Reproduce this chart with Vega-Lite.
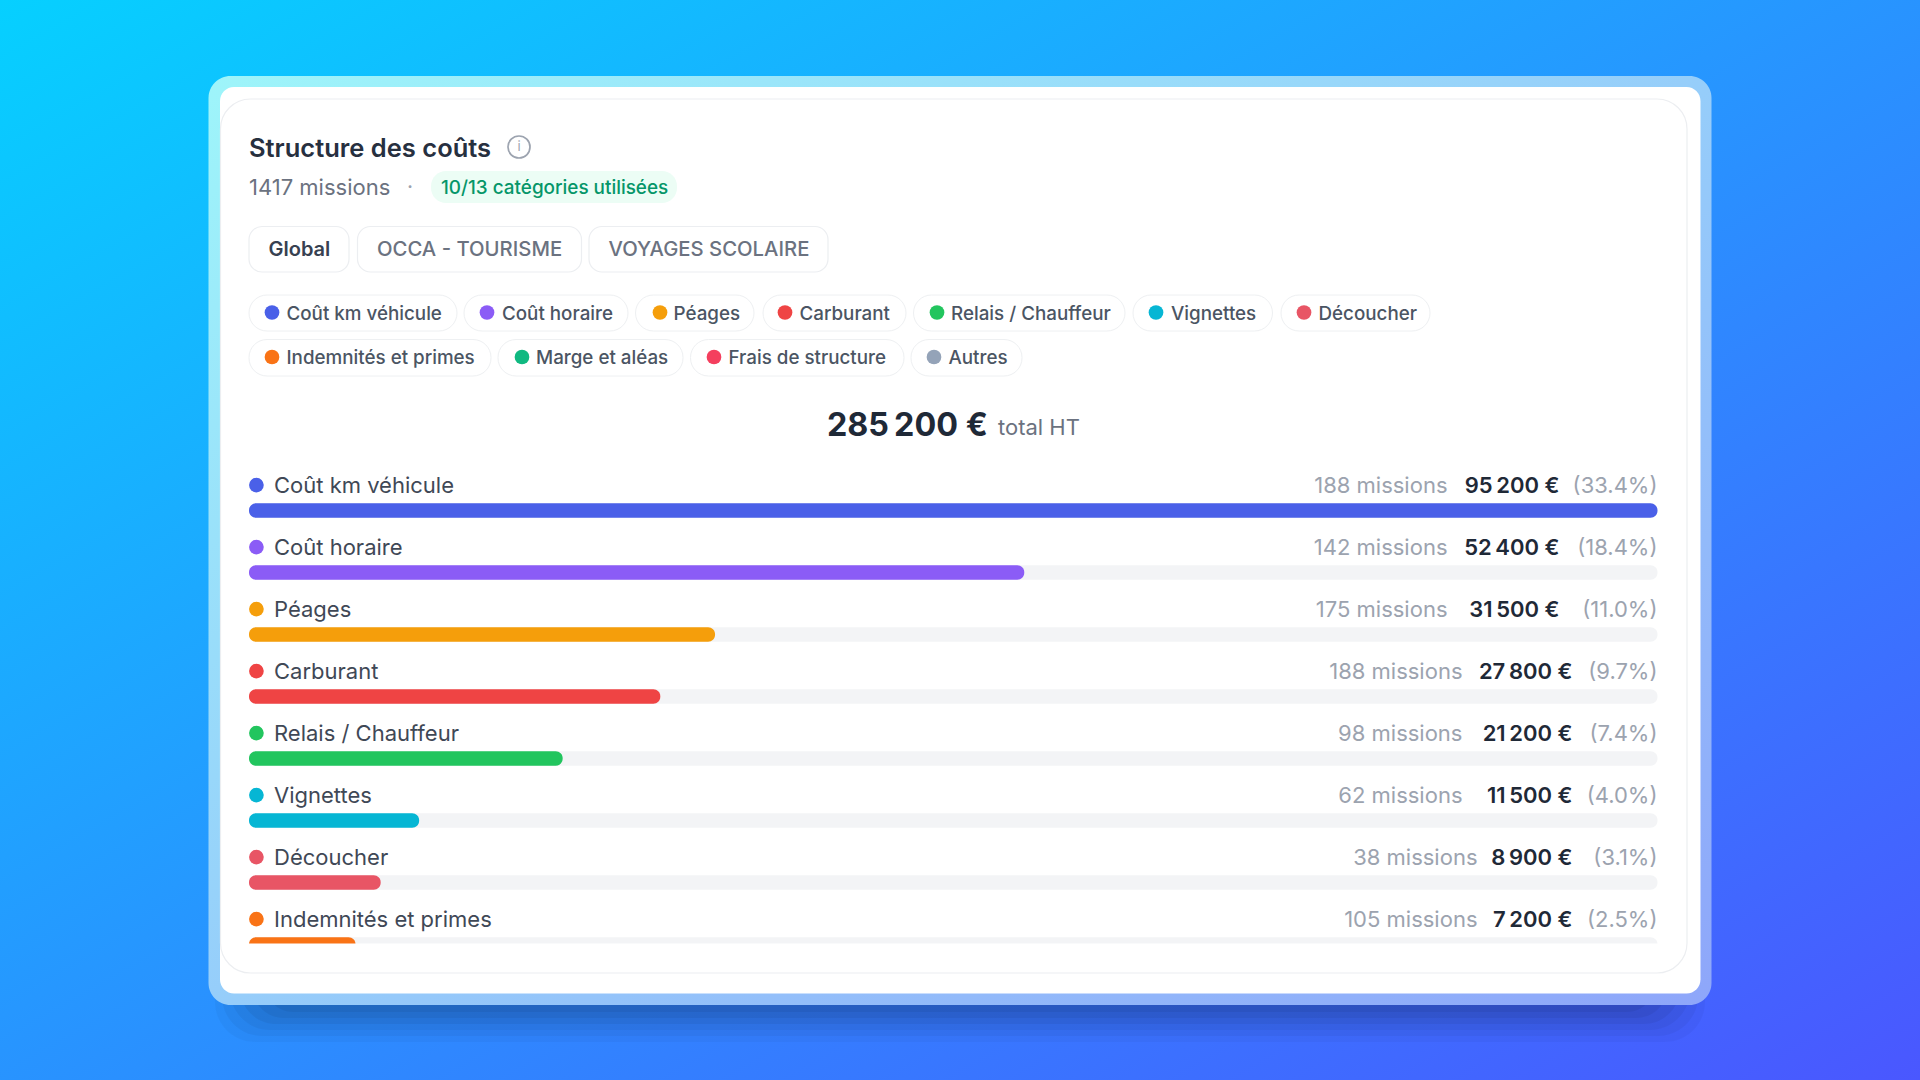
{
  "$schema": "https://vega.github.io/schema/vega-lite/v6.json",
  "width": 1920,
  "height": 1080,
  "padding": 0,
  "autosize": {"type": "fit", "contains": "padding"},
  "background": "#2a8cff",
  "config": {"font": "Inter", "view": {"stroke": null}, "axis": {"disable": true}},
  "resolve": {"scale": {"x": "independent", "y": "independent"}},
  "layer": [
    {
      "data": {"values": [{"card": "Structure des coûts"}]},
      "layer": [
        {"mark": {"type": "rect", "fill": {"gradient": "linear", "x1": 0, "y1": 0, "x2": 1, "y2": 1, "stops": [{"offset": 0, "color": "#06d0ff"}, {"offset": 1, "color": "#4a57ff"}]}},
         "encoding": {"x": {"datum": 0, "scale": {"domain": [0, 1920], "nice": false, "zero": false}}, "x2": {"datum": 1920}, "y": {"datum": 0, "scale": {"domain": [0, 1080], "reverse": true, "nice": false, "zero": false}}, "y2": {"datum": 1080}}},

        {"mark": {"type": "rect", "fill": "#000", "opacity": 0.03, "cornerRadius": 40}, "encoding": {"x": {"datum": 215}, "x2": {"datum": 1705}, "y": {"datum": 100}, "y2": {"datum": 1042}}},
        {"mark": {"type": "rect", "fill": "#000", "opacity": 0.04, "cornerRadius": 40}, "encoding": {"x": {"datum": 222}, "x2": {"datum": 1698}, "y": {"datum": 100}, "y2": {"datum": 1036}}},
        {"mark": {"type": "rect", "fill": "#000", "opacity": 0.04, "cornerRadius": 40}, "encoding": {"x": {"datum": 230}, "x2": {"datum": 1690}, "y": {"datum": 100}, "y2": {"datum": 1030}}},
        {"mark": {"type": "rect", "fill": "#000", "opacity": 0.05, "cornerRadius": 36}, "encoding": {"x": {"datum": 240}, "x2": {"datum": 1680}, "y": {"datum": 100}, "y2": {"datum": 1024}}},
        {"mark": {"type": "rect", "fill": "#000", "opacity": 0.05, "cornerRadius": 32}, "encoding": {"x": {"datum": 252}, "x2": {"datum": 1668}, "y": {"datum": 100}, "y2": {"datum": 1018}}},
        {"mark": {"type": "rect", "fill": "#000", "opacity": 0.05, "cornerRadius": 28}, "encoding": {"x": {"datum": 265}, "x2": {"datum": 1655}, "y": {"datum": 100}, "y2": {"datum": 1012}}},

        {"mark": {"type": "rect", "cornerRadius": 22, "fill": {"gradient": "linear", "x1": 0, "y1": 0, "x2": 1, "y2": 1, "stops": [{"offset": 0, "color": "#9ef5fa"}, {"offset": 1, "color": "#8ea6fa"}]}},
         "encoding": {"x": {"datum": 208.5}, "x2": {"datum": 1711.5}, "y": {"datum": 76}, "y2": {"datum": 1005}}},
        {"mark": {"type": "rect", "fill": "#ffffff", "cornerRadius": 14}, "encoding": {"x": {"datum": 220}, "x2": {"datum": 1700.5}, "y": {"datum": 87}, "y2": {"datum": 993.5}}},

        {"mark": {"type": "text", "align": "left", "baseline": "middle", "fontSize": 25.5, "fontWeight": 600, "color": "#27303f"}, "encoding": {"x": {"datum": 249}, "y": {"datum": 148.5}, "text": {"field": "card"}}},
        {"mark": {"type": "point", "shape": "circle", "filled": false, "size": 484, "strokeWidth": 1.7, "color": "#9ca3af", "opacity": 1}, "encoding": {"x": {"datum": 519}, "y": {"datum": 147}}},
        {"mark": {"type": "text", "align": "center", "baseline": "middle", "fontSize": 13, "color": "#9ca3af"}, "encoding": {"x": {"datum": 519}, "y": {"datum": 147}, "text": {"value": "i"}}},

        {"mark": {"type": "text", "align": "left", "baseline": "middle", "fontSize": 22, "color": "#6b7280"}, "encoding": {"x": {"datum": 249}, "y": {"datum": 188}, "text": {"value": "1417 missions"}}},
        {"mark": {"type": "text", "align": "center", "baseline": "middle", "fontSize": 21, "color": "#9ca3af"}, "encoding": {"x": {"datum": 410}, "y": {"datum": 188}, "text": {"value": "·"}}},
        {"mark": {"type": "rect", "fill": "#ecfdf5", "cornerRadius": 15}, "encoding": {"x": {"datum": 431}, "x2": {"datum": 677}, "y": {"datum": 171}, "y2": {"datum": 203}}},
        {"mark": {"type": "text", "align": "left", "baseline": "middle", "fontSize": 18.9, "fontWeight": 500, "color": "#059669"}, "encoding": {"x": {"datum": 441}, "y": {"datum": 188}, "text": {"value": "10/13 catégories utilisées"}}},

        {"mark": {"type": "rect", "fill": "#ffffff", "stroke": "#eceef1", "strokeWidth": 1.2, "cornerRadius": 13}, "encoding": {"x": {"datum": 249}, "x2": {"datum": 349}, "y": {"datum": 226.5}, "y2": {"datum": 272}}},
        {"mark": {"type": "text", "align": "left", "baseline": "middle", "fontSize": 20, "fontWeight": 600, "color": "#374151"}, "encoding": {"x": {"datum": 268.5}, "y": {"datum": 250}, "text": {"value": "Global"}}},
        {"mark": {"type": "rect", "fill": "#ffffff", "stroke": "#eceef1", "strokeWidth": 1.2, "cornerRadius": 13}, "encoding": {"x": {"datum": 357.5}, "x2": {"datum": 581.5}, "y": {"datum": 226.5}, "y2": {"datum": 272}}},
        {"mark": {"type": "text", "align": "left", "baseline": "middle", "fontSize": 20.3, "fontWeight": 500, "color": "#6b7280"}, "encoding": {"x": {"datum": 377}, "y": {"datum": 250}, "text": {"value": "OCCA - TOURISME"}}},
        {"mark": {"type": "rect", "fill": "#ffffff", "stroke": "#eceef1", "strokeWidth": 1.2, "cornerRadius": 13}, "encoding": {"x": {"datum": 589}, "x2": {"datum": 828}, "y": {"datum": 226.5}, "y2": {"datum": 272}}},
        {"mark": {"type": "text", "align": "left", "baseline": "middle", "fontSize": 20.3, "fontWeight": 500, "color": "#6b7280"}, "encoding": {"x": {"datum": 608.5}, "y": {"datum": 250}, "text": {"value": "VOYAGES SCOLAIRE"}}},

        {"data": {"values": [{"name": "Coût km véhicule"}]}, "layer": [
          {"mark": {"type": "rect", "fill": "#fff", "stroke": "#eef0f2", "cornerRadius": 18}, "encoding": {"x": {"datum": 249}, "x2": {"datum": 457}, "y": {"datum": 295}, "y2": {"datum": 331}}},
          {"mark": {"type": "circle", "size": 216, "opacity": 1}, "encoding": {"x": {"datum": 272}, "y": {"datum": 312.5}, "color": {"field": "name", "type": "nominal", "legend": null, "scale": {"domain": ["Coût km véhicule", "Coût horaire", "Péages", "Carburant", "Relais / Chauffeur", "Vignettes", "Découcher", "Indemnités et primes", "Marge et aléas", "Frais de structure", "Autres"], "range": ["#4a60e8", "#8b5cf6", "#f59e0b", "#ef4444", "#22c55e", "#06b6d4", "#e85565", "#f97316", "#10b981", "#f43f5e", "#94a3b8"]}}}},
          {"mark": {"type": "text", "align": "left", "baseline": "middle", "fontSize": 18.8, "fontWeight": 500, "color": "#4b5563"}, "encoding": {"x": {"datum": 286.5}, "y": {"datum": 313.5}, "text": {"field": "name"}}}]},
        {"data": {"values": [{"name": "Coût horaire"}]}, "layer": [
          {"mark": {"type": "rect", "fill": "#fff", "stroke": "#eef0f2", "cornerRadius": 18}, "encoding": {"x": {"datum": 464}, "x2": {"datum": 628}, "y": {"datum": 295}, "y2": {"datum": 331}}},
          {"mark": {"type": "circle", "size": 216, "opacity": 1}, "encoding": {"x": {"datum": 487}, "y": {"datum": 312.5}, "color": {"field": "name", "type": "nominal", "legend": null}}},
          {"mark": {"type": "text", "align": "left", "baseline": "middle", "fontSize": 18.8, "fontWeight": 500, "color": "#4b5563"}, "encoding": {"x": {"datum": 502}, "y": {"datum": 313.5}, "text": {"field": "name"}}}]},
        {"data": {"values": [{"name": "Péages"}]}, "layer": [
          {"mark": {"type": "rect", "fill": "#fff", "stroke": "#eef0f2", "cornerRadius": 18}, "encoding": {"x": {"datum": 635.5}, "x2": {"datum": 754}, "y": {"datum": 295}, "y2": {"datum": 331}}},
          {"mark": {"type": "circle", "size": 216, "opacity": 1}, "encoding": {"x": {"datum": 660}, "y": {"datum": 312.5}, "color": {"field": "name", "type": "nominal", "legend": null}}},
          {"mark": {"type": "text", "align": "left", "baseline": "middle", "fontSize": 18.8, "fontWeight": 500, "color": "#4b5563"}, "encoding": {"x": {"datum": 673.5}, "y": {"datum": 313.5}, "text": {"field": "name"}}}]},
        {"data": {"values": [{"name": "Carburant"}]}, "layer": [
          {"mark": {"type": "rect", "fill": "#fff", "stroke": "#eef0f2", "cornerRadius": 18}, "encoding": {"x": {"datum": 763}, "x2": {"datum": 906}, "y": {"datum": 295}, "y2": {"datum": 331}}},
          {"mark": {"type": "circle", "size": 216, "opacity": 1}, "encoding": {"x": {"datum": 785}, "y": {"datum": 312.5}, "color": {"field": "name", "type": "nominal", "legend": null}}},
          {"mark": {"type": "text", "align": "left", "baseline": "middle", "fontSize": 18.8, "fontWeight": 500, "color": "#4b5563"}, "encoding": {"x": {"datum": 799.5}, "y": {"datum": 313.5}, "text": {"field": "name"}}}]},
        {"data": {"values": [{"name": "Relais / Chauffeur"}]}, "layer": [
          {"mark": {"type": "rect", "fill": "#fff", "stroke": "#eef0f2", "cornerRadius": 18}, "encoding": {"x": {"datum": 913.5}, "x2": {"datum": 1125}, "y": {"datum": 295}, "y2": {"datum": 331}}},
          {"mark": {"type": "circle", "size": 216, "opacity": 1}, "encoding": {"x": {"datum": 937}, "y": {"datum": 312.5}, "color": {"field": "name", "type": "nominal", "legend": null}}},
          {"mark": {"type": "text", "align": "left", "baseline": "middle", "fontSize": 18.8, "fontWeight": 500, "color": "#4b5563"}, "encoding": {"x": {"datum": 951}, "y": {"datum": 313.5}, "text": {"field": "name"}}}]},
        {"data": {"values": [{"name": "Vignettes"}]}, "layer": [
          {"mark": {"type": "rect", "fill": "#fff", "stroke": "#eef0f2", "cornerRadius": 18}, "encoding": {"x": {"datum": 1133}, "x2": {"datum": 1272.5}, "y": {"datum": 295}, "y2": {"datum": 331}}},
          {"mark": {"type": "circle", "size": 216, "opacity": 1}, "encoding": {"x": {"datum": 1156}, "y": {"datum": 312.5}, "color": {"field": "name", "type": "nominal", "legend": null}}},
          {"mark": {"type": "text", "align": "left", "baseline": "middle", "fontSize": 18.8, "fontWeight": 500, "color": "#4b5563"}, "encoding": {"x": {"datum": 1171}, "y": {"datum": 313.5}, "text": {"field": "name"}}}]},
        {"data": {"values": [{"name": "Découcher"}]}, "layer": [
          {"mark": {"type": "rect", "fill": "#fff", "stroke": "#eef0f2", "cornerRadius": 18}, "encoding": {"x": {"datum": 1281}, "x2": {"datum": 1430}, "y": {"datum": 295}, "y2": {"datum": 331}}},
          {"mark": {"type": "circle", "size": 216, "opacity": 1}, "encoding": {"x": {"datum": 1304}, "y": {"datum": 312.5}, "color": {"field": "name", "type": "nominal", "legend": null}}},
          {"mark": {"type": "text", "align": "left", "baseline": "middle", "fontSize": 18.8, "fontWeight": 500, "color": "#4b5563"}, "encoding": {"x": {"datum": 1318.5}, "y": {"datum": 313.5}, "text": {"field": "name"}}}]},
        {"data": {"values": [{"name": "Indemnités et primes"}]}, "layer": [
          {"mark": {"type": "rect", "fill": "#fff", "stroke": "#eef0f2", "cornerRadius": 18}, "encoding": {"x": {"datum": 249}, "x2": {"datum": 491}, "y": {"datum": 339.5}, "y2": {"datum": 376}}},
          {"mark": {"type": "circle", "size": 216, "opacity": 1}, "encoding": {"x": {"datum": 272}, "y": {"datum": 357}, "color": {"field": "name", "type": "nominal", "legend": null}}},
          {"mark": {"type": "text", "align": "left", "baseline": "middle", "fontSize": 18.8, "fontWeight": 500, "color": "#4b5563"}, "encoding": {"x": {"datum": 286.5}, "y": {"datum": 358}, "text": {"field": "name"}}}]},
        {"data": {"values": [{"name": "Marge et aléas"}]}, "layer": [
          {"mark": {"type": "rect", "fill": "#fff", "stroke": "#eef0f2", "cornerRadius": 18}, "encoding": {"x": {"datum": 498}, "x2": {"datum": 683}, "y": {"datum": 339.5}, "y2": {"datum": 376}}},
          {"mark": {"type": "circle", "size": 216, "opacity": 1}, "encoding": {"x": {"datum": 522}, "y": {"datum": 357}, "color": {"field": "name", "type": "nominal", "legend": null}}},
          {"mark": {"type": "text", "align": "left", "baseline": "middle", "fontSize": 18.8, "fontWeight": 500, "color": "#4b5563"}, "encoding": {"x": {"datum": 536}, "y": {"datum": 358}, "text": {"field": "name"}}}]},
        {"data": {"values": [{"name": "Frais de structure"}]}, "layer": [
          {"mark": {"type": "rect", "fill": "#fff", "stroke": "#eef0f2", "cornerRadius": 18}, "encoding": {"x": {"datum": 690.5}, "x2": {"datum": 904}, "y": {"datum": 339.5}, "y2": {"datum": 376}}},
          {"mark": {"type": "circle", "size": 216, "opacity": 1}, "encoding": {"x": {"datum": 714}, "y": {"datum": 357}, "color": {"field": "name", "type": "nominal", "legend": null}}},
          {"mark": {"type": "text", "align": "left", "baseline": "middle", "fontSize": 18.8, "fontWeight": 500, "color": "#4b5563"}, "encoding": {"x": {"datum": 728.5}, "y": {"datum": 358}, "text": {"field": "name"}}}]},
        {"data": {"values": [{"name": "Autres"}]}, "layer": [
          {"mark": {"type": "rect", "fill": "#fff", "stroke": "#eef0f2", "cornerRadius": 18}, "encoding": {"x": {"datum": 911}, "x2": {"datum": 1022}, "y": {"datum": 339.5}, "y2": {"datum": 376}}},
          {"mark": {"type": "circle", "size": 216, "opacity": 1}, "encoding": {"x": {"datum": 934}, "y": {"datum": 357}, "color": {"field": "name", "type": "nominal", "legend": null}}},
          {"mark": {"type": "text", "align": "left", "baseline": "middle", "fontSize": 18.8, "fontWeight": 500, "color": "#4b5563"}, "encoding": {"x": {"datum": 948.5}, "y": {"datum": 358}, "text": {"field": "name"}}}]},

        {"mark": {"type": "text", "align": "left", "baseline": "alphabetic", "fontSize": 32.3, "fontWeight": 700, "color": "#1f2937"}, "encoding": {"x": {"datum": 827}, "y": {"datum": 436}, "text": {"value": "285\u202f200 €"}}},
        {"mark": {"type": "text", "align": "left", "baseline": "alphabetic", "fontSize": 22, "color": "#6b7280"}, "encoding": {"x": {"datum": 998}, "y": {"datum": 435}, "text": {"value": "total HT"}}}
      ]
    },
    {
      "data": {"values": [
        {"name": "Coût km véhicule", "missions": 188, "amount": 95200, "pct": 33.4},
        {"name": "Coût horaire", "missions": 142, "amount": 52400, "pct": 18.4},
        {"name": "Péages", "missions": 175, "amount": 31500, "pct": 11.0},
        {"name": "Carburant", "missions": 188, "amount": 27800, "pct": 9.7},
        {"name": "Relais / Chauffeur", "missions": 98, "amount": 21200, "pct": 7.4},
        {"name": "Vignettes", "missions": 62, "amount": 11500, "pct": 4.0},
        {"name": "Découcher", "missions": 38, "amount": 8900, "pct": 3.1},
        {"name": "Indemnités et primes", "missions": 105, "amount": 7200, "pct": 2.5}
      ]},
      "transform": [
        {"calculate": "replace(format(datum.amount, ','), ',', '\u202f') + ' €'", "as": "amountLabel"},
        {"calculate": "datum.missions + ' missions'", "as": "missionsLabel"},
        {"calculate": "'(' + format(datum.pct, '.1f') + '%)'", "as": "pctLabel"}
      ],
      "encoding": {
        "y": {"field": "name", "type": "nominal", "sort": null, "scale": {"type": "point", "domain": ["Coût km véhicule", "Coût horaire", "Péages", "Carburant", "Relais / Chauffeur", "Vignettes", "Découcher", "Indemnités et primes"], "range": [510.6, 944.6], "padding": 0}}
      },
      "layer": [
        {"mark": {"type": "bar", "size": 14.5, "cornerRadius": 7, "color": "#f3f4f6"}, "encoding": {"x": {"datum": 0, "type": "quantitative", "scale": {"domain": [-16830, 112943], "nice": false, "zero": false}}, "x2": {"datum": 95200}}},
        {"mark": {"type": "bar", "size": 14.5, "cornerRadius": 7}, "encoding": {"x": {"field": "amount", "type": "quantitative"}, "x2": {"datum": 0}, "color": {"field": "name", "type": "nominal", "legend": null}}},
        {"mark": {"type": "circle", "size": 216, "opacity": 1, "yOffset": -25.5}, "encoding": {"x": {"datum": 500, "type": "quantitative"}, "color": {"field": "name", "type": "nominal", "legend": null}}},
        {"mark": {"type": "text", "align": "left", "baseline": "middle", "dx": 25, "dy": -24.5, "fontSize": 22, "fontWeight": 400, "color": "#3f4856"}, "encoding": {"x": {"datum": 0, "type": "quantitative"}, "text": {"field": "name"}}},
        {"mark": {"type": "text", "align": "right", "baseline": "middle", "dy": -24.5, "fontSize": 22, "color": "#9ca3af"}, "encoding": {"x": {"datum": 95200, "type": "quantitative"}, "text": {"field": "pctLabel"}}},
        {"mark": {"type": "text", "align": "right", "baseline": "middle", "dy": -24.5, "dx": {"expr": "datum.pct >= 10 ? -98 : -85"}, "fontSize": 22, "fontWeight": 600, "color": "#1f2937"}, "encoding": {"x": {"datum": 95200, "type": "quantitative"}, "text": {"field": "amountLabel"}}},
        {"mark": {"type": "text", "align": "right", "baseline": "middle", "dy": -24.5, "dx": {"expr": "datum.pct >= 10 ? -210 : datum.amount >= 10000 ? -195 : -180"}, "fontSize": 22, "color": "#9ca3af"}, "encoding": {"x": {"datum": 95200, "type": "quantitative"}, "text": {"field": "missionsLabel"}}}
      ]
    },
    {
      "data": {"values": [{"card": "Structure des coûts"}]},
      "layer": [
        {"mark": {"type": "rect", "fill": "#ffffff"}, "encoding": {"x": {"datum": 222, "scale": {"domain": [0, 1920], "nice": false, "zero": false}}, "x2": {"datum": 1685}, "y": {"datum": 943.5, "scale": {"domain": [0, 1080], "reverse": true, "nice": false, "zero": false}}, "y2": {"datum": 972}}},
        {"mark": {"type": "rect", "fillOpacity": 0, "stroke": "#eceef1", "strokeWidth": 1.2, "cornerRadius": 30}, "encoding": {"x": {"datum": 220.5}, "x2": {"datum": 1687}, "y": {"datum": 99}, "y2": {"datum": 973}}}
      ]
    }
  ]
}
